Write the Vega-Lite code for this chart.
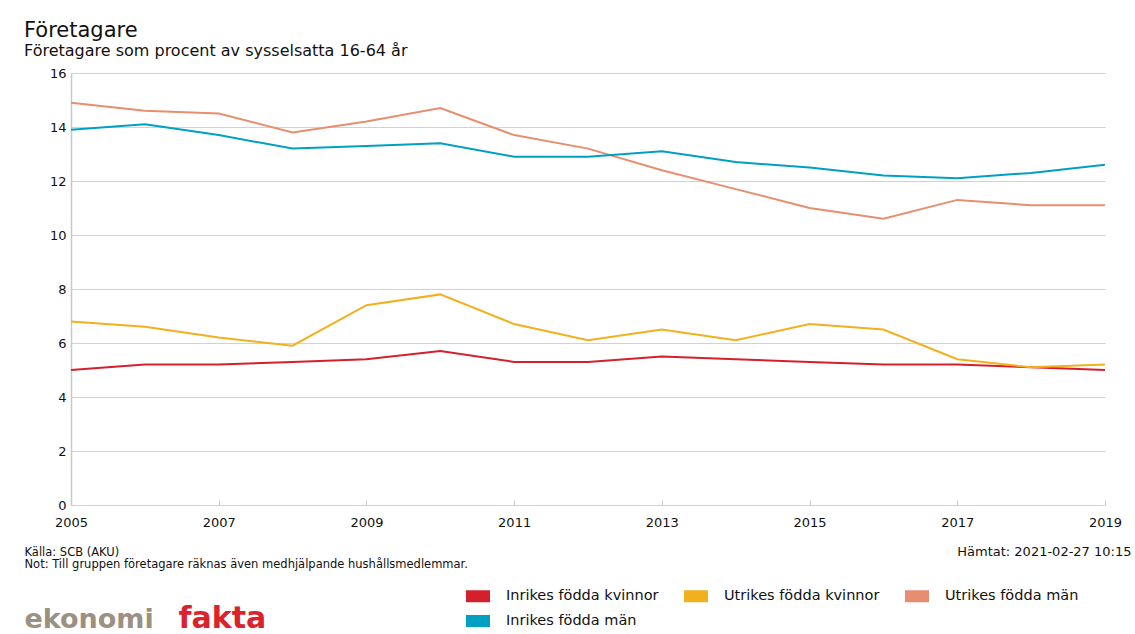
{
  "$schema": "https://vega.github.io/schema/vega-lite/v6.json",
  "width": 1034,
  "height": 432,
  "padding": {"left": 24, "top": 20, "right": 4, "bottom": 4},
  "background": "white",
  "config": {
    "font": "DejaVu Sans",
    "view": {"stroke": null}
  },
  "title": {
    "text": "Företagare",
    "subtitle": "Företagare som procent av sysselsatta 16-64 år",
    "anchor": "start",
    "frame": "group",
    "dx": -47,
    "font": "DejaVu Sans",
    "fontSize": 21,
    "fontWeight": "normal",
    "color": "#111111",
    "subtitleFont": "DejaVu Sans",
    "subtitleFontSize": 16,
    "subtitleColor": "#111111",
    "subtitlePadding": 2,
    "offset": 8
  },
  "data": {
    "values": [
      {"year": 2005, "series": "Inrikes födda kvinnor", "value": 5.0},
      {"year": 2006, "series": "Inrikes födda kvinnor", "value": 5.2},
      {"year": 2007, "series": "Inrikes födda kvinnor", "value": 5.2},
      {"year": 2008, "series": "Inrikes födda kvinnor", "value": 5.3},
      {"year": 2009, "series": "Inrikes födda kvinnor", "value": 5.4},
      {"year": 2010, "series": "Inrikes födda kvinnor", "value": 5.7},
      {"year": 2011, "series": "Inrikes födda kvinnor", "value": 5.3},
      {"year": 2012, "series": "Inrikes födda kvinnor", "value": 5.3},
      {"year": 2013, "series": "Inrikes födda kvinnor", "value": 5.5},
      {"year": 2014, "series": "Inrikes födda kvinnor", "value": 5.4},
      {"year": 2015, "series": "Inrikes födda kvinnor", "value": 5.3},
      {"year": 2016, "series": "Inrikes födda kvinnor", "value": 5.2},
      {"year": 2017, "series": "Inrikes födda kvinnor", "value": 5.2},
      {"year": 2018, "series": "Inrikes födda kvinnor", "value": 5.1},
      {"year": 2019, "series": "Inrikes födda kvinnor", "value": 5.0},
      {"year": 2005, "series": "Utrikes födda kvinnor", "value": 6.8},
      {"year": 2006, "series": "Utrikes födda kvinnor", "value": 6.6},
      {"year": 2007, "series": "Utrikes födda kvinnor", "value": 6.2},
      {"year": 2008, "series": "Utrikes födda kvinnor", "value": 5.9},
      {"year": 2009, "series": "Utrikes födda kvinnor", "value": 7.4},
      {"year": 2010, "series": "Utrikes födda kvinnor", "value": 7.8},
      {"year": 2011, "series": "Utrikes födda kvinnor", "value": 6.7},
      {"year": 2012, "series": "Utrikes födda kvinnor", "value": 6.1},
      {"year": 2013, "series": "Utrikes födda kvinnor", "value": 6.5},
      {"year": 2014, "series": "Utrikes födda kvinnor", "value": 6.1},
      {"year": 2015, "series": "Utrikes födda kvinnor", "value": 6.7},
      {"year": 2016, "series": "Utrikes födda kvinnor", "value": 6.5},
      {"year": 2017, "series": "Utrikes födda kvinnor", "value": 5.4},
      {"year": 2018, "series": "Utrikes födda kvinnor", "value": 5.1},
      {"year": 2019, "series": "Utrikes födda kvinnor", "value": 5.2},
      {"year": 2005, "series": "Utrikes födda män", "value": 14.9},
      {"year": 2006, "series": "Utrikes födda män", "value": 14.6},
      {"year": 2007, "series": "Utrikes födda män", "value": 14.5},
      {"year": 2008, "series": "Utrikes födda män", "value": 13.8},
      {"year": 2009, "series": "Utrikes födda män", "value": 14.2},
      {"year": 2010, "series": "Utrikes födda män", "value": 14.7},
      {"year": 2011, "series": "Utrikes födda män", "value": 13.7},
      {"year": 2012, "series": "Utrikes födda män", "value": 13.2},
      {"year": 2013, "series": "Utrikes födda män", "value": 12.4},
      {"year": 2014, "series": "Utrikes födda män", "value": 11.7},
      {"year": 2015, "series": "Utrikes födda män", "value": 11.0},
      {"year": 2016, "series": "Utrikes födda män", "value": 10.6},
      {"year": 2017, "series": "Utrikes födda män", "value": 11.3},
      {"year": 2018, "series": "Utrikes födda män", "value": 11.1},
      {"year": 2019, "series": "Utrikes födda män", "value": 11.1},
      {"year": 2005, "series": "Inrikes födda män", "value": 13.9},
      {"year": 2006, "series": "Inrikes födda män", "value": 14.1},
      {"year": 2007, "series": "Inrikes födda män", "value": 13.7},
      {"year": 2008, "series": "Inrikes födda män", "value": 13.2},
      {"year": 2009, "series": "Inrikes födda män", "value": 13.3},
      {"year": 2010, "series": "Inrikes födda män", "value": 13.4},
      {"year": 2011, "series": "Inrikes födda män", "value": 12.9},
      {"year": 2012, "series": "Inrikes födda män", "value": 12.9},
      {"year": 2013, "series": "Inrikes födda män", "value": 13.1},
      {"year": 2014, "series": "Inrikes födda män", "value": 12.7},
      {"year": 2015, "series": "Inrikes födda män", "value": 12.5},
      {"year": 2016, "series": "Inrikes födda män", "value": 12.2},
      {"year": 2017, "series": "Inrikes födda män", "value": 12.1},
      {"year": 2018, "series": "Inrikes födda män", "value": 12.3},
      {"year": 2019, "series": "Inrikes födda män", "value": 12.6}
    ]
  },
  "layer": [
    {
      "mark": {"type": "line", "strokeWidth": 2},
      "encoding": {
        "x": {
          "field": "year",
          "type": "quantitative",
          "scale": {"domain": [2005, 2019], "nice": false, "zero": false},
          "axis": {
            "orient": "bottom",
            "values": [2005, 2007, 2009, 2011, 2013, 2015, 2017, 2019],
            "format": "d",
            "grid": false,
            "domain": false,
            "ticks": true,
            "tickSize": -5,
            "tickColor": "#c8c8c8",
            "labelFont": "DejaVu Sans",
            "labelFontSize": 13,
            "labelColor": "#111111",
            "labelPadding": 16,
            "labelFlush": false,
            "title": ["Källa: SCB (AKU)", "Not: Till gruppen företagare räknas även medhjälpande hushållsmedlemmar."],
            "titleX": -47,
            "titleY": 50,
            "titleAlign": "left",
            "titleAnchor": null,
            "titleBaseline": "alphabetic",
            "titleFont": "DejaVu Sans",
            "titleFontSize": 11.5,
            "titleFontWeight": "normal",
            "titleColor": "#111111",
            "titleLineHeight": 12
          }
        },
        "y": {
          "field": "value",
          "type": "quantitative",
          "scale": {"domain": [0, 16], "nice": false},
          "axis": {
            "orient": "left",
            "values": [0, 2, 4, 6, 8, 10, 12, 14, 16],
            "grid": true,
            "gridColor": "#d2d2d2",
            "gridWidth": 1.2,
            "domain": true,
            "domainColor": "#c8c8c8",
            "domainWidth": 1.5,
            "ticks": false,
            "labelFont": "DejaVu Sans",
            "labelFontSize": 13,
            "labelColor": "#111111",
            "labelPadding": 5,
            "title": "ekonomi",
            "titleAngle": 0,
            "titleX": -47,
            "titleY": 554,
            "titleAlign": "left",
            "titleAnchor": null,
            "titleBaseline": "alphabetic",
            "titleFont": "DejaVu Sans",
            "titleFontSize": 27,
            "titleFontWeight": "bold",
            "titleColor": "#9b9183"
          }
        },
        "color": {
          "field": "series",
          "type": "nominal",
          "scale": {
            "domain": ["Inrikes födda kvinnor", "Utrikes födda kvinnor", "Utrikes födda män", "Inrikes födda män"],
            "range": ["#d4202c", "#f3b01e", "#e88e70", "#00a0c2"]
          },
          "legend": {
            "title": null,
            "orient": "none",
            "legendX": 395,
            "legendY": 511,
            "direction": "horizontal",
            "columns": 3,
            "columnPadding": 25,
            "rowPadding": 6,
            "symbolType": "M-1,-0.5H1V0.5H-1Z",
            "symbolSize": 576,
            "symbolStrokeWidth": 0,
            "labelFont": "DejaVu Sans",
            "labelFontSize": 14.5,
            "labelColor": "#111111",
            "labelOffset": 16,
            "labelLimit": 300,
            "encode": {
              "symbols": {
                "update": {
                  "fill": {"scale": "color", "field": "value"},
                  "fillOpacity": {"value": 1},
                  "strokeWidth": {"value": 0}
                }
              }
            }
          }
        }
      }
    },
    {
      "mark": {"type": "point", "opacity": 0},
      "encoding": {
        "x": {
          "field": "year",
          "type": "quantitative",
          "scale": {"domain": [2005, 2019], "nice": false, "zero": false},
          "axis": {
            "orient": "top",
            "labels": false,
            "ticks": false,
            "domain": false,
            "grid": false,
            "title": "Hämtat: 2021-02-27 10:15",
            "titleX": 1060,
            "titleY": 482,
            "titleAlign": "right",
            "titleAnchor": null,
            "titleBaseline": "alphabetic",
            "titleFont": "DejaVu Sans",
            "titleFontSize": 13,
            "titleFontWeight": "normal",
            "titleColor": "#111111"
          }
        },
        "y": {
          "field": "value",
          "type": "quantitative",
          "scale": {"domain": [0, 16], "nice": false},
          "axis": {
            "orient": "right",
            "labels": false,
            "ticks": false,
            "domain": false,
            "grid": false,
            "title": "fakta",
            "titleAngle": 0,
            "titleX": -927,
            "titleY": 554,
            "titleAlign": "left",
            "titleAnchor": null,
            "titleBaseline": "alphabetic",
            "titleFont": "DejaVu Sans",
            "titleFontSize": 30,
            "titleFontWeight": "bold",
            "titleColor": "#d9232e"
          }
        }
      }
    }
  ],
  "resolve": {
    "scale": {"x": "independent", "y": "independent"},
    "axis": {"x": "independent", "y": "independent"}
  }
}
